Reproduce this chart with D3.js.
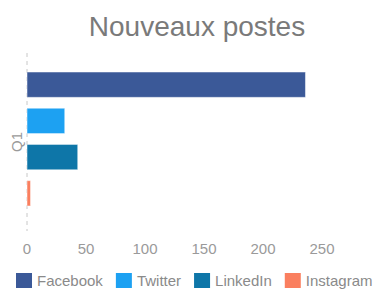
<!DOCTYPE html>
<html>
<head>
<meta charset="utf-8">
<script src="https://cdn.jsdelivr.net/npm/d3@7"></script>
<style>
  body { margin: 0; background: #fff; }
  text { font-family: "Liberation Sans", Arial, sans-serif; }
</style>
</head>
<body>
<svg id="chart" width="379" height="289"></svg>
<script>
var categories = ["Q1"];
var series = ["Facebook", "Twitter", "LinkedIn", "Instagram"];
var values = [236, 32, 43, 3];
var colors = ["#3b5998", "#1da1f2", "#0e76a8", "#fa7f5f"];
var ticks = [0, 50, 100, 150, 200, 250];

var svg = d3.select("#chart");
var plotLeft = 27, plotTop = 53, plotBottom = 231;

var x = d3.scaleLinear().domain([0, 50]).range([plotLeft, plotLeft + 59]);
var y = d3.scaleBand().domain(categories).range([72, 206]);
var ySub = d3.scaleBand().domain(series).range([0, y.bandwidth()]).paddingInner(0.3);

svg.append("text")
    .attr("x", 197).attr("y", 36)
    .attr("text-anchor", "middle")
    .attr("font-size", 28)
    .attr("fill", "#7a7a7a")
    .text("Nouveaux postes");

// dashed category axis
svg.append("line")
    .attr("x1", x(0)).attr("x2", x(0))
    .attr("y1", plotTop).attr("y2", plotBottom)
    .attr("stroke", "#c8c8c8")
    .attr("stroke-dasharray", "4,4");

svg.selectAll("text.tick")
    .data(ticks).enter()
    .append("text")
    .attr("class", "tick")
    .attr("x", function(d) { return x(d); })
    .attr("y", 254)
    .attr("text-anchor", "middle")
    .attr("font-size", 15)
    .attr("fill", "#9a9a9a")
    .text(function(d) { return d; });

svg.append("text")
    .attr("transform", "translate(22," + (y("Q1") + y.bandwidth() / 2 + 3) + ") rotate(-90)")
    .attr("text-anchor", "middle")
    .attr("font-size", 15)
    .attr("fill", "#9a9a9a")
    .text("Q1");

svg.selectAll("rect.bar")
    .data(values).enter()
    .append("rect")
    .attr("class", "bar")
    .attr("x", x(0))
    .attr("y", function(d, i) { return y("Q1") + ySub(series[i]); })
    .attr("width", function(d) { return x(d) - x(0); })
    .attr("height", ySub.bandwidth())
    .attr("fill", function(d, i) { return colors[i]; })
    .attr("stroke", "rgba(255,255,255,0.5)")
    .attr("stroke-width", 1);

// legend, laid out from the measured text widths
var lx = 16;
series.forEach(function(name, i) {
    var g = svg.append("g").attr("transform", "translate(" + lx + ",273)");
    g.append("rect")
        .attr("width", 16).attr("height", 15)
        .attr("fill", colors[i]);
    var t = g.append("text")
        .attr("x", 21).attr("y", 13)
        .attr("font-size", 15)
        .attr("fill", "#8a8a8a")
        .text(name);
    lx += 21 + t.node().getComputedTextLength() + 13;
});
</script>
</body>
</html>
